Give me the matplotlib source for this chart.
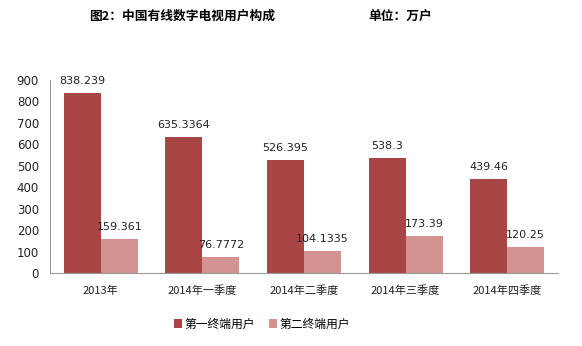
import numpy as np
import matplotlib.pyplot as plt

plt.rcParams['font.family'] = ['Noto Sans CJK SC', 'DejaVu Sans']

categories = ["2013年", "2014年一季度", "2014年二季度", "2014年三季度", "2014年四季度"]
first_users = [838.239, 635.3364, 526.395, 538.3, 439.46]
second_users = [159.361, 76.7772, 104.1335, 173.39, 120.25]
first_labels = ["838.239", "635.3364", "526.395", "538.3", "439.46"]
second_labels = ["159.361", "76.7772", "104.1335", "173.39", "120.25"]

red = "#A84645"
pink = "#D39391"

fig = plt.figure(figsize=(5.82, 3.46), dpi=100)
ax = fig.add_axes([50/582, 73/346, 508/582, 193/346])

x = np.arange(len(categories))
w = 0.365
ax.bar(x - w/2, first_users, w, color=red, label="第一终端用户")
ax.bar(x + w/2, second_users, w, color=pink, label="第二终端用户")

# value labels above bars
for xi, v, s in zip(x, first_users, first_labels):
    ax.text(xi - w/2, v + 32, s, ha='center', va='bottom', fontsize=8, color='#222222', family='DejaVu Sans')
for xi, v, s in zip(x, second_users, second_labels):
    ax.text(xi + w/2, v + 32, s, ha='center', va='bottom', fontsize=8, color='#222222', family='DejaVu Sans')

ax.set_xlim(-0.5, len(categories) - 0.5)
ax.set_ylim(0, 900)
ax.set_yticks(range(0, 901, 100))
ax.set_xticks(x)
ax.set_xticklabels(categories, fontsize=8, color='#222222')
ax.tick_params(axis='y', length=0, labelsize=8.5, labelcolor='#222222', pad=8)
ax.tick_params(axis='x', length=0, pad=9)
for lab in ax.get_yticklabels():
    lab.set_family('DejaVu Sans')
for side in ['top', 'right']:
    ax.spines[side].set_visible(False)
ax.spines['left'].set_color('#999999')
ax.spines['bottom'].set_color('#999999')

fig.text(89/582, 1 - 16/346, "图2：中国有线数字电视用户构成", fontsize=9.2, fontweight='bold', ha='left', va='center')
fig.text(368/582, 1 - 16/346, "单位：万户", fontsize=9.2, fontweight='bold', ha='left', va='center')

fig.legend(loc='center', bbox_to_anchor=(262/582, 1 - 324/346), ncol=2, frameon=False,
           fontsize=8.5, handlelength=0.7, handleheight=0.7, handletextpad=0.2, columnspacing=1.2)

fig.savefig("out.png", dpi=100)
